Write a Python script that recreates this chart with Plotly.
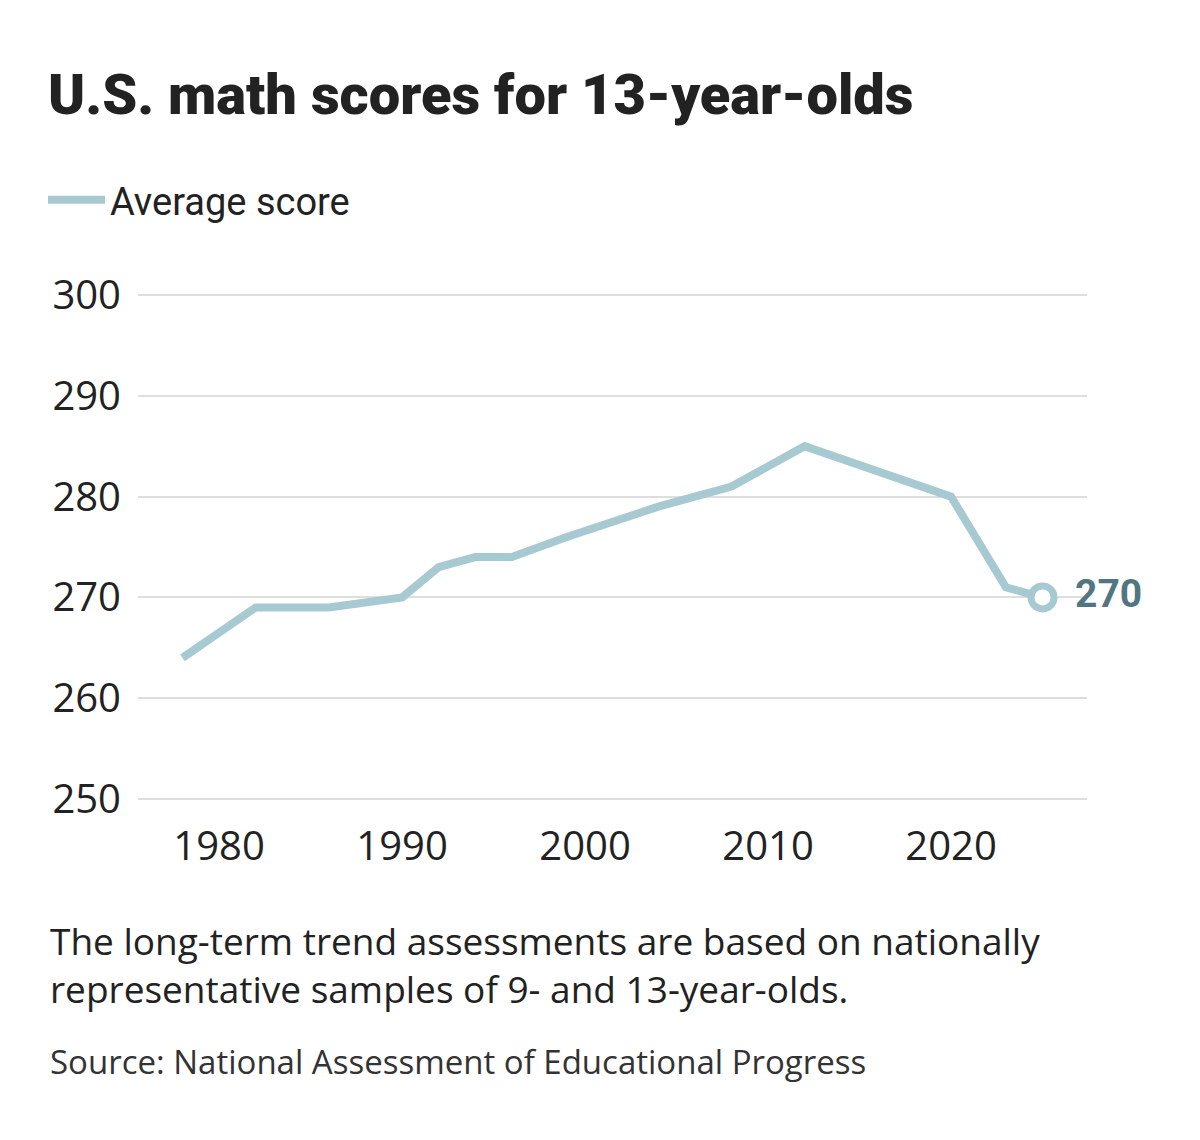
import plotly.graph_objects as go

years = [1978, 1982, 1986, 1990, 1992, 1994, 1996, 1999, 2004, 2008, 2012, 2020, 2023, 2025]
scores = [264, 269, 269, 270, 273, 274, 274, 276, 279, 281, 285, 280, 271, 270]
y_ticks = [250, 260, 270, 280, 290, 300]
x_ticks = [1980, 1990, 2000, 2010, 2020]

LINE = "#a7c9d2"
LABEL = "#527681"
TEXT = "#222222"
FONT = "Roboto"
BODY = "Open Sans"

OFF = 8  # page body margin
W, H = 1200 - OFF, 1140 - OFF
# plot area in reference pixels
L, R, T, B = 138, 1087, 290, 804

def px(x):
    return (x - L) / (R - L)

def py(y):
    return (B - y) / (B - T)

fig = go.Figure()
fig.add_trace(go.Scatter(
    x=years, y=scores, mode="lines", name="Average score",
    line=dict(color=LINE, width=8), showlegend=True, hoverinfo="skip"))
fig.add_trace(go.Scatter(
    x=[years[-1]], y=[scores[-1]], mode="markers",
    marker=dict(size=23, color="white", line=dict(color=LINE, width=7)),
    showlegend=False, hoverinfo="skip", cliponaxis=False))

fig.update_layout(
    width=W, height=H,
    margin=dict(l=L - OFF, r=W - (R - OFF), t=T - OFF, b=H - (B - OFF), pad=0),
    paper_bgcolor="white", plot_bgcolor="white",
    font=dict(family=FONT, color=TEXT),
    title=dict(text="U.S. math scores for 13-year-olds", xref="container", yref="container",
               x=(48 - OFF) / W, y=1 - (94 - OFF) / H, xanchor="left", yanchor="middle",
               font=dict(size=56, color=TEXT, family=FONT, weight=900)),
    legend=dict(orientation="h", xref="container", yref="container", x=(43 - OFF) / W,
                y=1 - (200 - OFF) / H, xanchor="left", yanchor="middle",
                font=dict(size=38, color=TEXT, family=FONT),
                itemwidth=57, bgcolor="rgba(0,0,0,0)"),
    xaxis=dict(range=[1975.57, 2027.43], tickvals=x_ticks, showgrid=False, zeroline=False,
               showline=False, ticks="outside", ticklen=7, tickcolor="rgba(0,0,0,0)",
               tickfont=dict(size=40, color=TEXT, family=BODY)),
    yaxis=dict(range=[249.5, 300.5], tickvals=y_ticks, showgrid=True, gridcolor="#dedede", gridwidth=2,
               zeroline=False, showline=False, ticks="outside", ticklen=8, tickcolor="rgba(0,0,0,0)",
               tickfont=dict(size=40, color=TEXT, family=BODY)),
    annotations=[
        dict(text=f"<b>{scores[-1]}</b>", xref="x", yref="y", x=years[-1], y=scores[-1],
             xanchor="left", yanchor="middle", xshift=30, yshift=3, showarrow=False,
             font=dict(size=39, color=LABEL, family=FONT)),
        dict(text="The long-term trend assessments are based on nationally<br>representative samples of 9- and 13-year-olds.",
             xref="paper", yref="paper", x=px(48), y=py(964), xanchor="left", yanchor="middle",
             align="left", showarrow=False, font=dict(size=37, color=TEXT, family=BODY)),
        dict(text="Source: National Assessment of Educational Progress",
             xref="paper", yref="paper", x=px(48), y=py(1061), xanchor="left", yanchor="middle",
             align="left", showarrow=False, font=dict(size=33, color="#333333", family=BODY)),
    ],
)

fig.write_html("out.html")
